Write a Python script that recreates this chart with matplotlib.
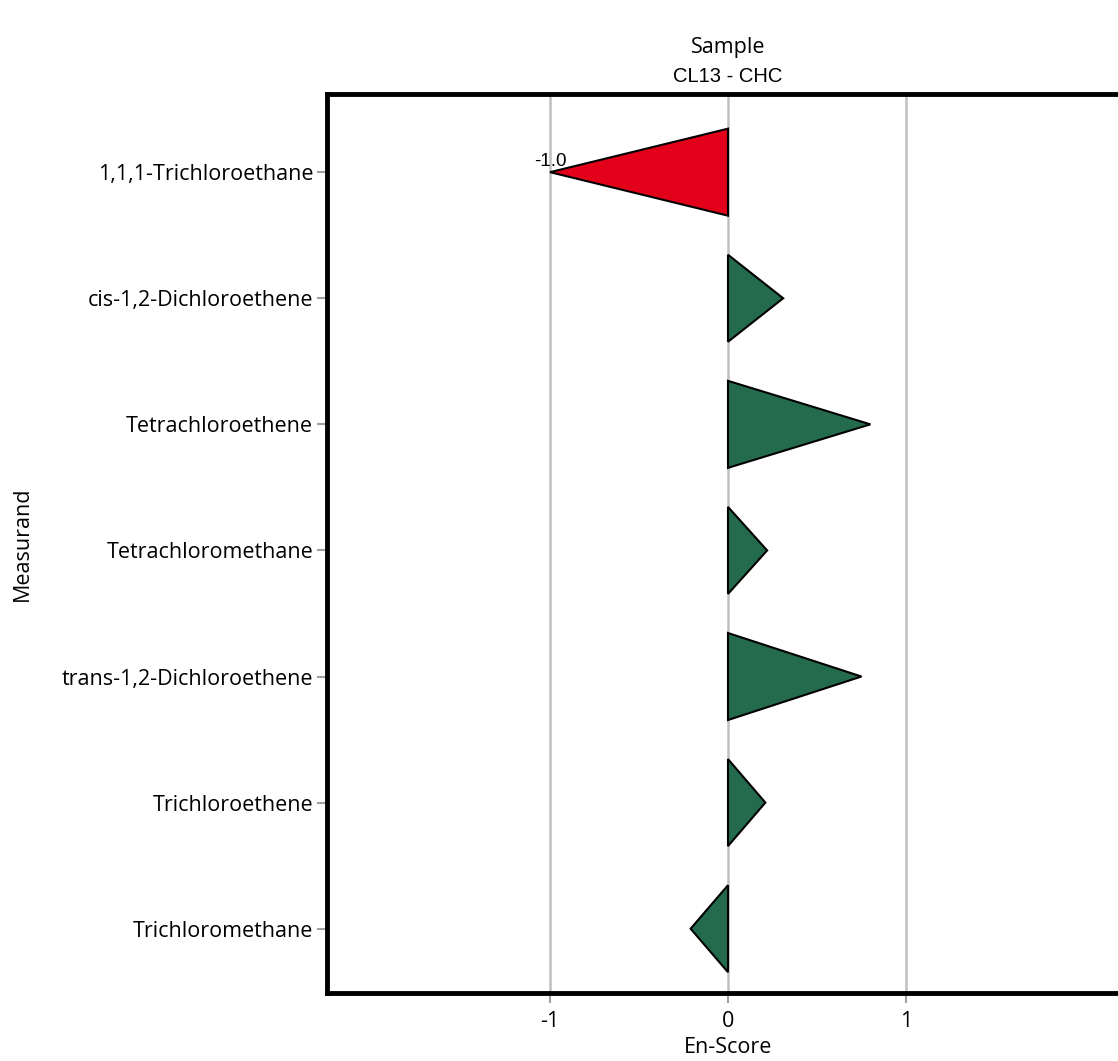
import matplotlib.pyplot as plt

# data
measurands = ['1,1,1-Trichloroethane', 'cis-1,2-Dichloroethene', 'Tetrachloroethene',
              'Tetrachloromethane', 'trans-1,2-Dichloroethene', 'Trichloroethene',
              'Trichloromethane']
en_scores = [-1.0, 0.31, 0.80, 0.22, 0.75, 0.21, -0.21]
x_ticks = [-1, 0, 1]

red = '#e2001a'
green = '#246b4d'
half = 0.345

plt.rcParams['font.family'] = ['Open Sans', 'DejaVu Sans']

fig = plt.figure(figsize=(11.18, 10.61), dpi=100)
ax = fig.add_axes([327/1118, 68/1061, 802/1118, 899/1061])

for i, v in enumerate(en_scores):
    col = red if abs(v) >= 1 else green
    ax.fill([0, v, 0], [i - half, i, i + half], facecolor=col, edgecolor='black',
            linewidth=1.5, zorder=3)
    if abs(v) >= 1:
        ax.text(v, i - 0.02, f'{v:.1f}', ha='center', va='bottom', fontsize=13.5,
                family='Liberation Sans', zorder=4)

ax.set_xlim(-2.253, 2.253)
ax.set_ylim(len(measurands) - 0.49, -0.62)
ax.set_xticks(x_ticks)
ax.set_xticklabels([str(t) for t in x_ticks])
ax.set_yticks(range(len(measurands)))
ax.set_yticklabels(measurands)
ax.grid(axis='x', color='#c0c0c0', linewidth=1.8, zorder=0)
ax.tick_params(axis='both', color='#a0a0a0', length=7.5, width=1.5, labelsize=15.5, pad=2.5)
ax.tick_params(axis='x', pad=5.5)

for s in ax.spines.values():
    s.set_linewidth(3.5)

ax.set_xlabel('En-Score', fontsize=15.5, labelpad=3.5)
ax.set_ylabel('Measurand', fontsize=15.5, labelpad=21)
ax.text(0.5, 1 + 17/899, 'CL13 - CHC', transform=ax.transAxes, ha='center', va='center',
        fontsize=14.5, family='Liberation Sans')
ax.text(0.5, 1 + 46/899, 'Sample', transform=ax.transAxes, ha='center', va='center',
        fontsize=15.5)

fig.savefig('out.png', dpi=100)
